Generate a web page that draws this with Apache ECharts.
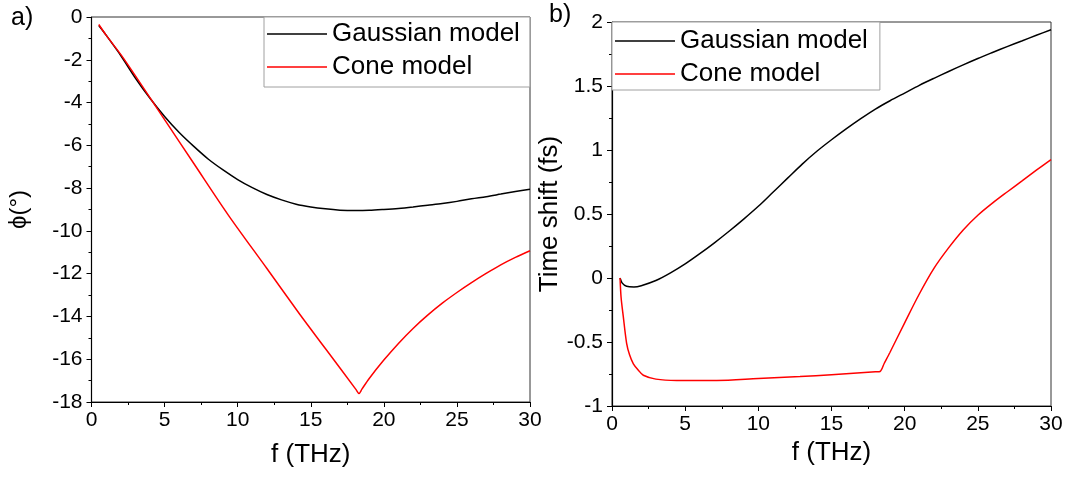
<!DOCTYPE html>
<html>
<head>
<meta charset="utf-8">
<script src="https://cdn.jsdelivr.net/npm/echarts@6/dist/echarts.min.js"></script>
<style>
html,body{margin:0;padding:0;background:#fff;}
#chart{width:1073px;height:477px;}
</style>
</head>
<body>
<div id="chart"></div>
<script>
// ---- Data ----
const seriesNames = ['Gaussian model', 'Cone model'];

// Panel a) phase phi (deg) vs f (THz)
const aGaussF = [0.5,1,2,3,4,5,6,7,8,9,10,11,12,13,14,15,16,17,18,19,20,21,22,23,24,25,26,27,28,29,30];
const aGaussV = [-0.40,-0.85,-1.80,-2.85,-3.80,-4.65,-5.40,-6.05,-6.65,-7.15,-7.60,-7.98,-8.30,-8.55,-8.75,-8.88,-8.97,-9.03,-9.05,-9.04,-9.00,-8.95,-8.88,-8.80,-8.72,-8.62,-8.50,-8.40,-8.28,-8.16,-8.05];
const aConeF = [0.5,1,2.18,5,7,9.36,12,14.26,16,18.1,18.3,18.5,19,20,21,22,23,24,25,26,27,28,29,30];
const aConeV = [-0.35,-0.85,-1.92,-4.80,-6.85,-9.26,-11.76,-13.91,-15.50,-17.42,-17.60,-17.40,-16.90,-16.04,-15.26,-14.56,-13.94,-13.38,-12.88,-12.42,-11.99,-11.59,-11.24,-10.93];

// Panel b) time shift (fs) vs f (THz)
const bGaussF = [0.55,0.7,1.0,1.5,2,3,4,5,6,7,8,9,10,11,12,13,14,15,16,17,18,19,20,21,22,23,24,25,26,27,28,29,30];
const bGaussV = [0.00,-0.04,-0.065,-0.07,-0.06,-0.02,0.04,0.11,0.19,0.275,0.365,0.46,0.56,0.67,0.78,0.89,0.99,1.08,1.165,1.245,1.32,1.385,1.445,1.505,1.56,1.613,1.665,1.715,1.762,1.808,1.852,1.896,1.94];
const bConeF = [0.55,0.62,0.77,1.0,1.2,1.46,1.8,2.14,3,4.42,7.16,10,12.85,15,18.0,18.32,18.6,19,20,21,22,23,24,25,26,27,28,29,30];
const bConeV = [0.00,-0.15,-0.30,-0.51,-0.60,-0.67,-0.72,-0.76,-0.79,-0.80,-0.80,-0.785,-0.77,-0.755,-0.733,-0.73,-0.668,-0.58,-0.35,-0.125,0.075,0.235,0.375,0.49,0.585,0.672,0.757,0.842,0.925];

// Axis ticks
const xTicks = {min: 0, max: 30, interval: 5};
const aYTicks = {min: -18, max: 0, interval: 2};
const bYTicks = {min: -1, max: 2, interval: 0.5};

const xTitle = 'f (THz)';
const aYTitle = 'ϕ(°)';
const bYTitle = 'Time shift (fs)';
const panelLabels = ['a)', 'b)'];

function pairs(xs, ys){ return xs.map((x,i)=>[x, ys[i]]); }

const FONT = "'Liberation Sans', Arial, sans-serif";

function xAxisCfg(gridIndex, nameGap){
  return {
    type: 'value', gridIndex, min: xTicks.min, max: xTicks.max, interval: xTicks.interval,
    name: xTitle, nameLocation: 'middle', nameGap,
    nameTextStyle: {fontSize: 26, color: '#000', fontFamily: FONT},
    axisLine: {show: true, onZero: false, lineStyle: {color: '#000', width: 1.2}},
    axisTick: {show: true, inside: false, length: 5, lineStyle: {color: '#000'}},
    minorTick: {show: true, splitNumber: 2, length: 3, lineStyle: {color: '#000'}},
    axisLabel: {fontSize: 21, color: '#000', fontFamily: FONT, margin: 8},
    splitLine: {show: false}
  };
}
function yAxisCfg(gridIndex, t, name, nameGap, nameSize){
  return {
    type: 'value', gridIndex, min: t.min, max: t.max, interval: t.interval,
    name, nameLocation: 'middle', nameGap,
    nameTextStyle: {fontSize: nameSize, color: '#000', fontFamily: FONT},
    axisLine: {show: true, onZero: false, lineStyle: {color: '#000', width: 1.2}},
    axisTick: {show: true, inside: false, length: 5, lineStyle: {color: '#000'}},
    minorTick: {show: true, splitNumber: 2, length: 3, lineStyle: {color: '#000'}},
    axisLabel: {fontSize: 21, color: '#000', fontFamily: FONT, margin: 9},
    splitLine: {show: false}
  };
}
function lineSeries(name, data, xi, color){
  return {
    type: 'line', name, data, xAxisIndex: xi, yAxisIndex: xi,
    symbol: 'none', smooth: 0.3,
    lineStyle: {color, width: 1.5}, itemStyle: {color},
    animation: false
  };
}
function legendCfg(left, top, padding){
  return {
    data: seriesNames, left, top, orient: 'vertical', padding,
    icon: 'rect', itemWidth: 60, itemHeight: 1.5, itemGap: 3,
    backgroundColor: '#fff', borderColor: '#a0a0a0', borderWidth: 1,
    textStyle: {fontSize: 26, color: '#000', fontFamily: FONT, lineHeight: 30}
  };
}

const chart = echarts.init(document.getElementById('chart'), null, {renderer: 'canvas'});
const option = {
  animation: false,
  backgroundColor: '#fff',
  grid: [
    {left: 91.5, right: 543, top: 17, bottom: 75, show: true, borderColor: '#333', borderWidth: 1, backgroundColor: 'transparent'},
    {left: 612, right: 22, top: 22, bottom: 71, show: true, borderColor: '#333', borderWidth: 1, backgroundColor: 'transparent'}
  ],
  xAxis: [xAxisCfg(0, 40), xAxisCfg(1, 34)],
  yAxis: [yAxisCfg(0, aYTicks, aYTitle, 60, 24), yAxisCfg(1, bYTicks, bYTitle, 38, 26)],
  legend: [
    legendCfg(264, 17, [2, 10, 5, 3]),
    legendCfg(612, 22, [4, 12, 1, 3])
  ],
  series: [
    lineSeries(seriesNames[0], pairs(aGaussF, aGaussV), 0, '#000000'),
    lineSeries(seriesNames[1], pairs(aConeF, aConeV), 0, '#ff0000'),
    lineSeries(seriesNames[0], pairs(bGaussF, bGaussV), 1, '#000000'),
    lineSeries(seriesNames[1], pairs(bConeF, bConeV), 1, '#ff0000')
  ],
  graphic: [
    {type: 'text', left: 11, top: 6, style: {text: panelLabels[0], fontSize: 25, fill: '#000', fontFamily: FONT}},
    {type: 'text', left: 549, top: 3, style: {text: panelLabels[1], fontSize: 25, fill: '#000', fontFamily: FONT}}
  ]
};
chart.setOption(option);
</script>
</body>
</html>
